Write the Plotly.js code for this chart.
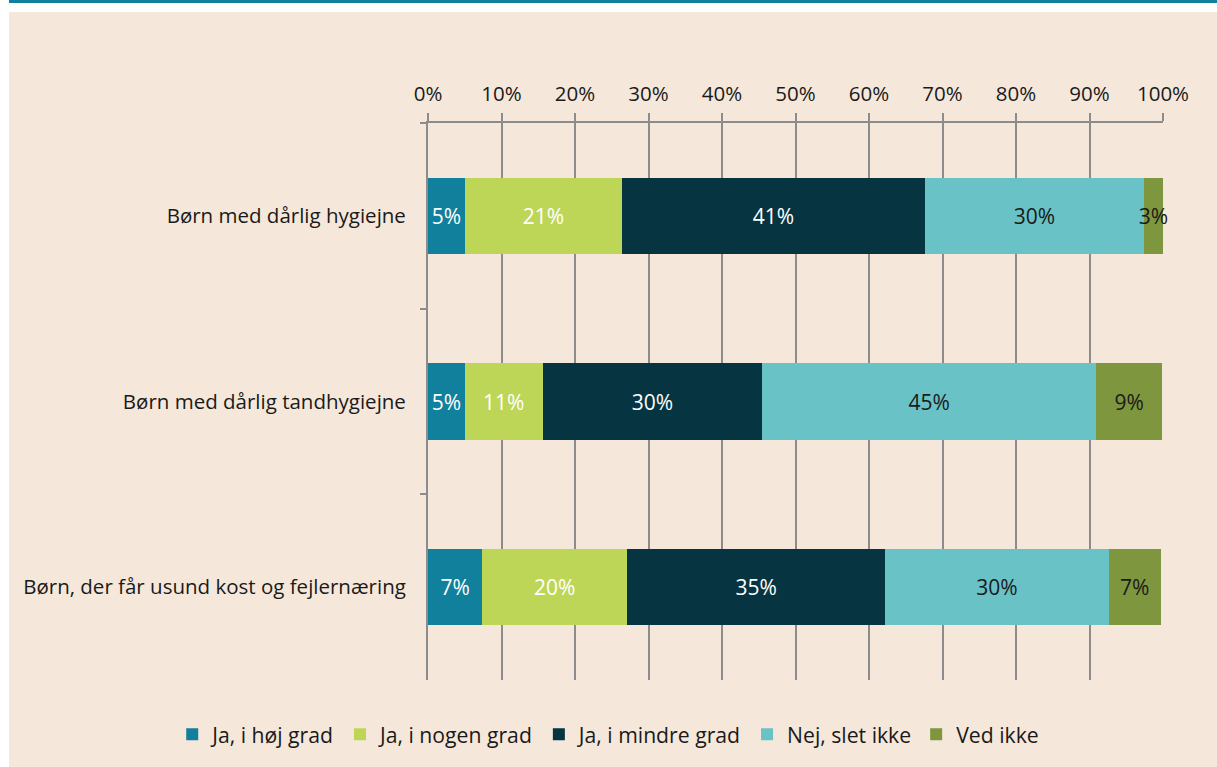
<!DOCTYPE html>
<html>
<head>
<meta charset="utf-8">
<script src="https://cdn.plot.ly/plotly-3.0.1.min.js"></script>
<style>
html,body{margin:0;padding:0;background:#ffffff;width:1217px;height:767px;overflow:hidden;}
#band{position:absolute;left:9px;top:0;width:1208px;height:3px;background:#10809C;}
#chart{position:absolute;left:9px;top:12px;width:1208px;height:755px;}
</style>
</head>
<body>
<div id="band"></div>
<div id="chart"></div>
<script>
var categories = ["Børn med dårlig hygiejne", "Børn med dårlig tandhygiejne", "Børn, der får usund kost og fejlernæring"];
var seriesNames = ["Ja, i høj grad", "Ja, i nogen grad", "Ja, i mindre grad", "Nej, slet ikke", "Ved ikke"];
var hoejGrad = [5.0, 5.0, 7.4];
var nogenGrad = [21.4, 10.6, 19.7];
var mindreGrad = [41.2, 29.9, 35.1];
var sletIkke = [29.8, 45.4, 30.4];
var vedIkke = [2.6, 9.0, 7.1];
var tickVals = [0, 10, 20, 30, 40, 50, 60, 70, 80, 90, 100];
var tickText = ["0%", "10%", "20%", "30%", "40%", "50%", "60%", "70%", "80%", "90%", "100%"];

var colors = ["#10809C", "#BED657", "#063441", "#69C2C6", "#7E963D"];
var textColors = ["#ffffff", "#ffffff", "#ffffff", "#1a1a1a", "#1a1a1a"];
var allSeries = [hoejGrad, nogenGrad, mindreGrad, sletIkke, vedIkke];
var FONT = "'Open Sans', 'Noto Sans', sans-serif";

var traces = allSeries.map(function (vals, i) {
  return {
    type: "bar",
    orientation: "h",
    name: seriesNames[i],
    y: categories,
    x: vals,
    text: vals.map(function (v) { return Math.round(v) + "%"; }),
    textposition: "inside",
    insidetextanchor: "middle",
    textangle: 0,
    constraintext: "none",
    cliponaxis: false,
    textfont: {family: FONT, size: 21, color: textColors[i]},
    marker: {color: colors[i], line: {width: 0}},
    hoverinfo: "skip"
  };
});

var layout = {
  width: 1208,
  height: 755,
  barmode: "stack",
  bargap: 0.59,
  paper_bgcolor: "#F5E8DA",
  plot_bgcolor: "#F5E8DA",
  margin: {l: 419, r: 54, t: 111, b: 82},
  font: {family: FONT, size: 20.5, color: "#1a1a1a"},
  showlegend: true,
  legend: {
    orientation: "h",
    x: -0.348, xanchor: "left",
    y: -0.098, yanchor: "middle",
    font: {family: FONT, size: 21.2, color: "#1a1a1a"},
    traceorder: "normal",
    itemwidth: 30,
    bgcolor: "rgba(0,0,0,0)"
  },
  xaxis: {
    side: "top",
    range: [0, 100],
    tickmode: "array",
    tickvals: tickVals,
    ticktext: tickText,
    showgrid: true,
    gridcolor: "#8C8C8C",
    gridwidth: 2,
    zeroline: false,
    showline: true,
    linecolor: "#8C8C8C",
    linewidth: 2,
    ticks: "outside",
    ticklen: 8,
    tickwidth: 2,
    tickcolor: "#8C8C8C",
    tickfont: {family: FONT, size: 20.5, color: "#1a1a1a"},
    ticklabelstandoff: 4,
    fixedrange: true
  },
  yaxis: {
    type: "category",
    autorange: "reversed",
    showgrid: false,
    zeroline: false,
    showline: true,
    linecolor: "#8C8C8C",
    linewidth: 2,
    ticks: "outside",
    tickson: "boundaries",
    ticklen: 6,
    tickwidth: 2,
    tickcolor: "#8C8C8C",
    tickfont: {family: FONT, size: 20.5, color: "#1a1a1a"},
    ticklabelstandoff: 16,
    fixedrange: true
  }
};

Plotly.newPlot("chart", traces, layout, {displayModeBar: false, staticPlot: true});
</script>
</body>
</html>
